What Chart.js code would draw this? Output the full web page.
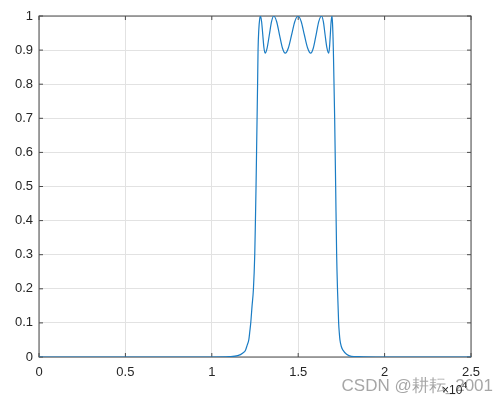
<!DOCTYPE html>
<html>
<head>
<meta charset="utf-8">
<script src="https://cdn.jsdelivr.net/npm/chart.js@4"></script>
<style>
  body { margin: 0; background: #fff; }
</style>
</head>
<body>
<canvas id="Chart" width="500" height="402"></canvas>
<script>
// frequency (Hz) and magnitude
const freqs = [
    0, 5000, 10000, 11000, 11500, 11800, 11950, 12050, 12140, 12200,
    12254, 12330, 12410, 12485, 12525, 12560, 12590, 12620, 12650, 12677,
    12720, 12770, 12815, 12881, 12950, 13017, 13085, 13200, 13330, 13460,
    13584, 13750, 13917, 14083, 14250, 14435, 14620, 14805, 14988, 15172,
    15355, 15540, 15723, 15880, 16036, 16193, 16350, 16453, 16556, 16660,
    16763, 16810, 16858, 16906, 16954, 16985, 17035, 17110, 17168, 17225,
    17280, 17341, 17380, 17416, 17500, 17590, 17800, 18075, 18500, 20000,
    25000,
];
const magnitude = [
    0, 0, 0, 0.001, 0.004, 0.012, 0.02, 0.035, 0.05, 0.075,
    0.1, 0.15, 0.2, 0.3, 0.4, 0.5, 0.6, 0.7, 0.8, 0.9,
    0.96, 0.99, 1.0, 0.984, 0.945, 0.907, 0.891, 0.906, 0.945, 0.984,
    1.0, 0.984, 0.945, 0.907, 0.891, 0.907, 0.945, 0.984, 1.0, 0.984,
    0.945, 0.907, 0.891, 0.907, 0.945, 0.984, 1.0, 0.984, 0.945, 0.907,
    0.891, 0.907, 0.945, 0.984, 1.0, 0.98, 0.9, 0.7, 0.5, 0.3,
    0.19, 0.1, 0.07, 0.05, 0.03, 0.02, 0.008, 0.002, 0.001, 0,
    0,
];
const xTickLabels = ['0', '0.5', '1', '1.5', '2', '2.5'];
const yTickLabels = ['0', '0.1', '0.2', '0.3', '0.4', '0.5', '0.6', '0.7', '0.8', '0.9', '1'];

const points = freqs.map((f, i) => ({ x: f, y: magnitude[i] }));

const axisColor = '#4a4a4a';
const textColor = '#262626';

// box + inward ticks (under the data, like matlab), exponent and watermark on top
const matlabFrame = {
    id: 'matlabFrame',
    beforeDatasetsDraw(chart) {
        const { ctx, chartArea: a, scales } = chart;
        ctx.save();
        ctx.strokeStyle = axisColor;
        ctx.lineWidth = 1;
        ctx.strokeRect(a.left, a.top, a.right - a.left, a.bottom - a.top);
        ctx.beginPath();
        scales.x.ticks.forEach(t => {
            const px = scales.x.getPixelForValue(t.value);
            ctx.moveTo(px, a.bottom); ctx.lineTo(px, a.bottom - 4);
            ctx.moveTo(px, a.top); ctx.lineTo(px, a.top + 4);
        });
        scales.y.ticks.forEach(t => {
            const py = scales.y.getPixelForValue(t.value);
            ctx.moveTo(a.left, py); ctx.lineTo(a.left + 4, py);
            ctx.moveTo(a.right, py); ctx.lineTo(a.right - 4, py);
        });
        ctx.stroke();
        ctx.restore();
    },
    afterDraw(chart) {
        const { ctx } = chart;
        ctx.save();
        ctx.fillStyle = 'rgba(150,150,150,0.85)';
        ctx.font = '17px "Liberation Sans", Arial, sans-serif';
        ctx.textAlign = 'right';
        ctx.textBaseline = 'alphabetic';
        ctx.fillText('CSDN @耕耘_2001', 493, 391);

        ctx.fillStyle = textColor;
        ctx.textAlign = 'left';
        ctx.font = '12px "Liberation Sans", Arial, sans-serif';
        ctx.fillText('\u00d710', 442, 394);
        ctx.font = '9px "Liberation Sans", Arial, sans-serif';
        ctx.fillText('4', 462, 388);
        ctx.restore();
    },
};

const config = {
    type: 'line',
    data: {
        datasets: [{
            data: points,
            borderColor: '#1a7cc4',
            borderWidth: 1.2,
            pointRadius: 0,
            fill: false,
            cubicInterpolationMode: 'monotone',
        }],
    },
    options: {
        responsive: false,
        animation: false,
        layout: { padding: { left: 0, right: 29, top: 16, bottom: 0 } },
        plugins: {
            legend: { display: false },
            tooltip: { enabled: false },
        },
        scales: {
            x: {
                type: 'linear',
                min: 0,
                max: 25000,
                afterFit: s => { s.height = 45; },
                afterBuildTicks: s => {
                    s.ticks = xTickLabels.map((_, i) => ({ value: i * 5000 }));
                },
                grid: { color: '#e2e2e2', drawTicks: false },
                border: { display: false },
                ticks: {
                    padding: 8,
                    color: textColor,
                    font: { family: '"Liberation Sans", Arial, sans-serif', size: 13 },
                    maxRotation: 0,
                    callback: (v, i) => xTickLabels[i],
                },
            },
            y: {
                min: 0,
                max: 1,
                afterFit: s => { s.width = 39; },
                afterBuildTicks: s => {
                    s.ticks = yTickLabels.map((_, i) => ({ value: i / 10 }));
                },
                grid: { color: '#e2e2e2', drawTicks: false },
                border: { display: false },
                ticks: {
                    padding: 6,
                    color: textColor,
                    font: { family: '"Liberation Sans", Arial, sans-serif', size: 13 },
                    callback: (v, i) => yTickLabels[i],
                },
            },
        },
    },
    plugins: [matlabFrame],
};

const ctx = document.getElementById('Chart').getContext('2d');
const myChart = new Chart(ctx, config);
</script>
</body>
</html>
